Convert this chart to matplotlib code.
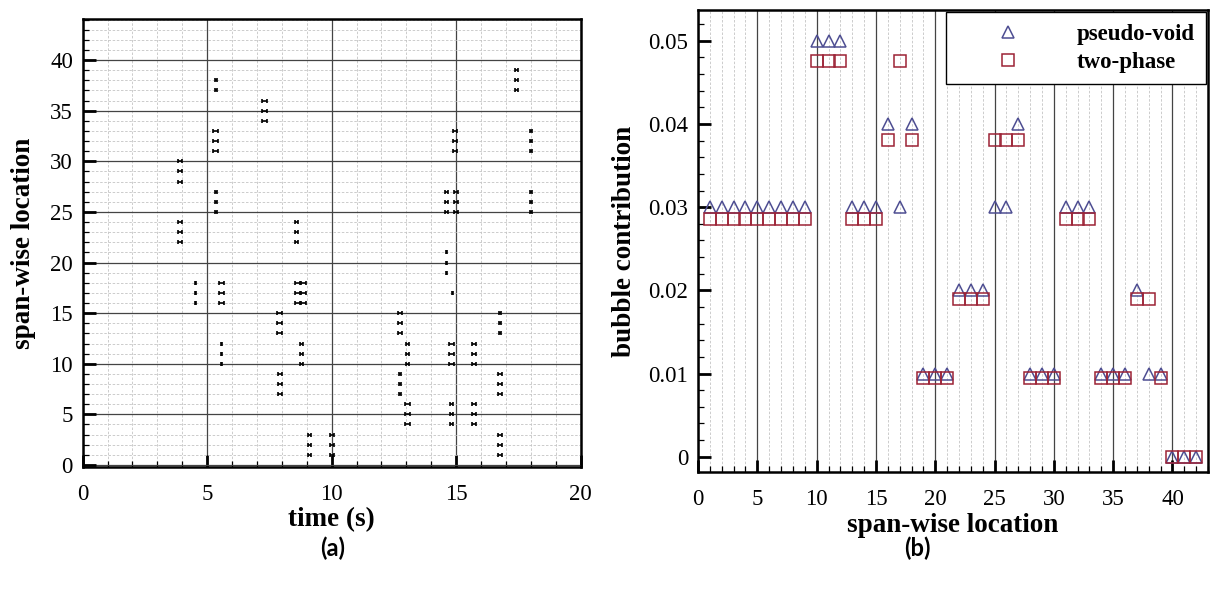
import numpy as np
import matplotlib
matplotlib.use("Agg")
import matplotlib.pyplot as plt
from matplotlib.ticker import MultipleLocator

# ---- (a) bubble passage events: time, span-wise stations hit, half-duration
event_time = [3.91, 3.91, 4.54, 5.35, 5.35, 5.35, 5.58, 5.58, 7.32, 7.92,
              7.92, 8.59, 8.61, 8.85, 8.79, 9.10, 10.02, 12.74, 12.74, 13.05,
              13.05, 14.62, 14.84, 14.62, 14.99, 14.96, 14.82, 14.82, 15.71,
              15.71, 16.76, 16.76, 16.76, 17.43, 18.00, 18.00]
event_locs = [[28, 29, 30], [22, 23, 24], [16, 17, 18], [37, 38], [31, 32, 33],
              [25, 26, 27], [16, 17, 18], [10, 11, 12], [34, 35, 36],
              [13, 14, 15], [7, 8, 9], [22, 23, 24], [16, 17, 18], [16, 17, 18],
              [10, 11, 12], [1, 2, 3], [1, 2, 3], [13, 14, 15], [7, 8, 9],
              [10, 11, 12], [4, 5, 6], [19, 20, 21], [17], [25, 26, 27],
              [25, 26, 27], [31, 32, 33], [10, 11, 12], [4, 5, 6], [10, 11, 12],
              [4, 5, 6], [13, 14, 15], [7, 8, 9], [1, 2, 3], [37, 38, 39],
              [31, 32, 33], [25, 26, 27]]
event_halfdur = [0.10, 0.07, 0.03, 0.03, 0.10, 0.05, 0.10, 0.03, 0.10, 0.10,
                 0.07, 0.06, 0.10, 0.10, 0.07, 0.07, 0.07, 0.07, 0.03, 0.07,
                 0.10, 0.03, 0.02, 0.07, 0.07, 0.07, 0.10, 0.07, 0.07,
                 0.07, 0.03, 0.10, 0.07, 0.07, 0.05, 0.05]

# ---- (b) bubble contribution per span-wise location
location = list(range(1, 43))
pseudo_void = [0.03, 0.03, 0.03, 0.03, 0.03, 0.03, 0.03, 0.03, 0.03,
               0.05, 0.05, 0.05, 0.03, 0.03, 0.03, 0.04, 0.03, 0.04,
               0.01, 0.01, 0.01, 0.02, 0.02, 0.02, 0.03, 0.03, 0.04,
               0.01, 0.01, 0.01, 0.03, 0.03, 0.03, 0.01, 0.01, 0.01,
               0.02, 0.01, 0.01, 0.0, 0.0, 0.0]
two_phase = [0.0286, 0.0286, 0.0286, 0.0286, 0.0286, 0.0286, 0.0286, 0.0286, 0.0286,
             0.0476, 0.0476, 0.0476, 0.0286, 0.0286, 0.0286, 0.0381, 0.0476, 0.0381,
             0.0095, 0.0095, 0.0095, 0.0190, 0.0190, 0.0190, 0.0381, 0.0381, 0.0381,
             0.0095, 0.0095, 0.0095, 0.0286, 0.0286, 0.0286, 0.0095, 0.0095, 0.0095,
             0.0190, 0.0190, 0.0095, 0.0, 0.0, 0.0]

SERIF = "Liberation Serif"
plt.rcParams["font.family"] = SERIF
TICK_FS = 16.5
LABEL_FS = 19.5


def style_axes(ax):
    for s in ax.spines.values():
        s.set_linewidth(1.8)
        s.set_color("black")
    ax.tick_params(which="major", direction="in", length=9, width=2,
                   labelsize=TICK_FS, top=False, right=False)
    ax.tick_params(which="minor", direction="in", length=4.5, width=0.9,
                   top=False, right=False)
    ax.tick_params(axis="y", which="major", pad=7)
    ax.tick_params(axis="x", which="major", pad=12)
    ax.set_axisbelow(True)


fig = plt.figure(figsize=(12.1, 5.89), dpi=100)

# ---------------- (a)
ax1 = fig.add_axes([0.0683, 0.2071, 0.4116, 0.7606])
xs, ys, ws = [], [], []
for t, locs, w in zip(event_time, event_locs, event_halfdur):
    for loc in locs:
        xs.append(t)
        ys.append(loc)
        ws.append(w)
ax1.errorbar(xs, ys, xerr=ws, fmt="none", ecolor="black",
             elinewidth=1.2, capsize=1.7, capthick=1.2)
ax1.set_xlim(0, 20)
ax1.set_ylim(-0.2, 44.05)
ax1.xaxis.set_major_locator(MultipleLocator(5))
ax1.xaxis.set_minor_locator(MultipleLocator(1))
ax1.yaxis.set_major_locator(MultipleLocator(5))
ax1.yaxis.set_minor_locator(MultipleLocator(1))
ax1.grid(which="major", color="#444444", lw=0.9, ls="-")
ax1.grid(which="minor", color="#c4c4c4", lw=0.6, ls=(0, (3, 2)))
style_axes(ax1)
ax1.set_xlabel("time (s)", fontsize=LABEL_FS, fontweight="bold", labelpad=2)
ax1.set_ylabel("span-wise location", fontsize=LABEL_FS, fontweight="bold",
               labelpad=10)

# ---------------- (b)
ax2 = fig.add_axes([0.5769, 0.1978, 0.4215, 0.7852])
ax2.plot(location, pseudo_void, ls="none", marker="^", ms=9, mfc="none",
         mec="#4e4e92", mew=1.1, label="pseudo-void")
ax2.plot(location, two_phase, ls="none", marker="s", ms=8.2, mfc="none",
         mec="#9c2336", mew=1.1, label="two-phase")
ax2.set_xlim(0, 43)
ax2.set_ylim(-0.0019, 0.0537)
ax2.xaxis.set_major_locator(MultipleLocator(5))
ax2.xaxis.set_minor_locator(MultipleLocator(1))
ax2.yaxis.set_major_locator(MultipleLocator(0.01))
ax2.yaxis.set_minor_locator(MultipleLocator(0.002))
ax2.set_yticks([0, 0.01, 0.02, 0.03, 0.04, 0.05],
               ["0", "0.01", "0.02", "0.03", "0.04", "0.05"])
ax2.grid(axis="x", which="major", color="#444444", lw=0.9, ls="-")
ax2.grid(axis="x", which="minor", color="#c4c4c4", lw=0.6, ls=(0, (3, 2)))
style_axes(ax2)
ax2.set_xlabel("span-wise location", fontsize=LABEL_FS, fontweight="bold",
               labelpad=2)
ax2.set_ylabel("bubble contribution", fontsize=LABEL_FS, fontweight="bold",
               labelpad=8)
leg = ax2.legend(loc="upper right", borderaxespad=0.1, fancybox=False,
                 framealpha=1, edgecolor="black", handlelength=4.4,
                 handletextpad=0.8, borderpad=0.5, labelspacing=0.3,
                 prop={"family": SERIF, "weight": "bold", "size": 16.5})
leg.get_frame().set_linewidth(1.0)

fig.text(0.275, 0.069, "(a)", family="Lato", fontweight="bold", fontsize=17,
         ha="center", va="center")
fig.text(0.758, 0.069, "(b)", family="Lato", fontweight="bold", fontsize=17,
         ha="center", va="center")

fig.savefig("out.png", dpi=100)
